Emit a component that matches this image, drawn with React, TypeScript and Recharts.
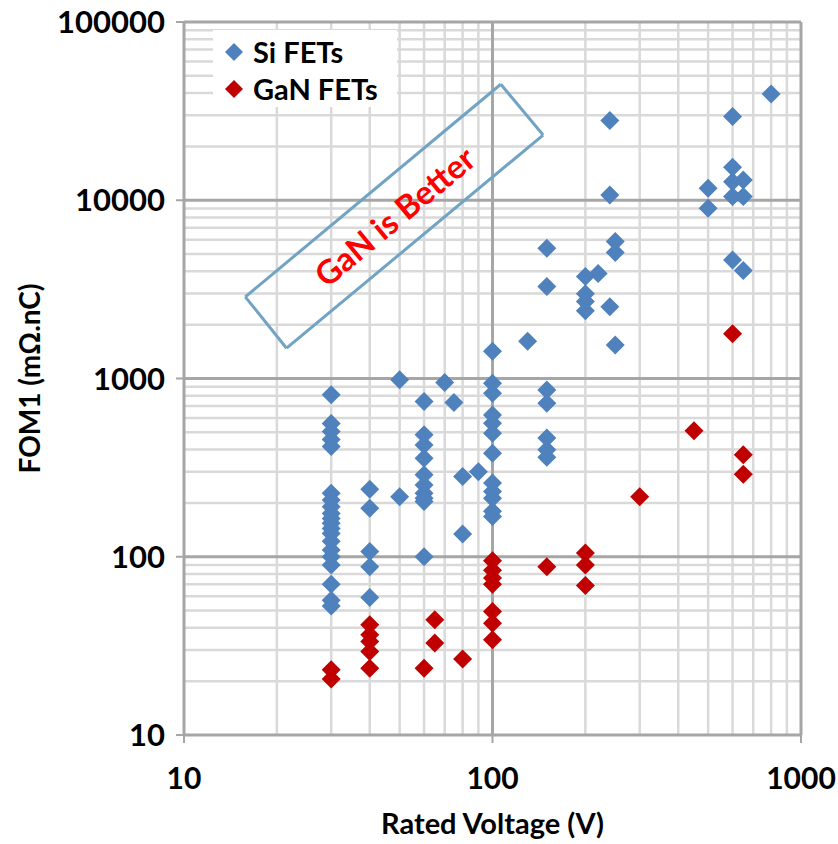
import React from "react";
import {
  ScatterChart,
  Scatter,
  XAxis,
  YAxis,
  ReferenceLine,
  ReferenceDot,
  Legend,
  Label,
} from "recharts";

// Si FETs: rated voltage (V) and FOM1 (mΩ.nC)
const siVoltage = [
  30, 30, 30, 30, 30, 30, 30, 30, 30, 30, 30, 30, 30, 30, 30, 30, 30, 30, 30, 30,
  40, 40, 40, 40, 40,
  50, 50,
  60, 60, 60, 60, 60, 60, 60, 60, 60, 60,
  70, 75, 80, 80, 90,
  100, 100, 100, 100, 100, 100, 100, 100, 100, 100, 100, 100,
  130,
  150, 150, 150, 150, 150, 150, 150,
  200, 200, 200, 200, 220,
  240, 240, 240, 250, 250, 250,
  500, 500,
  600, 600, 600, 600, 600,
  650, 650, 650,
  800,
];
const siFom = [
  810, 560, 505, 455, 415, 227, 208, 191, 175, 164, 154, 144, 135, 122, 109, 100, 90, 70, 57, 53,
  239, 187, 107, 88, 59,
  985, 217,
  742, 483, 424, 357, 288, 253, 227, 213, 204, 100,
  950, 733, 282, 134, 300,
  1420, 940, 826, 625, 561, 493, 381, 259, 232, 213, 180, 168,
  1620,
  5380, 3280, 863, 727, 463, 398, 362,
  3730, 2990, 2700, 2400, 3880,
  27980, 10710, 2530, 5860, 5100, 1543,
  11680, 9020,
  29500, 15300, 12700, 10480, 4625,
  13000, 10480, 4030,
  39500,
];

// GaN FETs
const ganVoltage = [
  30, 30,
  40, 40, 40, 40, 40,
  60, 65, 65, 80,
  100, 100, 100, 100, 100, 100, 100,
  150, 200, 200, 200,
  300, 450, 600, 650, 650,
];
const ganFom = [
  23.2, 20.6,
  41.5, 36.5, 33.5, 29.4, 23.7,
  23.7, 44.3, 32.8, 26.7,
  95, 84, 76, 70, 49.3, 42.4, 34.2,
  88, 105, 90, 69,
  217, 510, 1780, 373, 290,
];

const seriesNames = ["Si FETs", "GaN FETs"];
const xTicks = [10, 100, 1000];
const yTicks = [10, 100, 1000, 10000, 100000];
const annotationText = "GaN is Better";

const siData = siVoltage.map((v, i) => ({ v, fom: siFom[i] }));
const ganData = ganVoltage.map((v, i) => ({ v, fom: ganFom[i] }));

// minor grid values (2..9 within each decade)
const minorX: number[] = [];
for (const d of [10, 100]) for (let k = 2; k <= 9; k++) minorX.push(k * d);
const minorY: number[] = [];
for (const d of [10, 100, 1000, 10000]) for (let k = 2; k <= 9; k++) minorY.push(k * d);

// corners of the tilted "GaN is Better" box, in data coordinates
const boxCorners = [
  { x: 15.8, y: 2870 },
  { x: 106.4, y: 44740 },
  { x: 145.9, y: 23220 },
  { x: 21.5, y: 1479 },
];
const boxCenter = { x: 48, y: 8170 };

const FONT = "Lato, 'Open Sans', sans-serif";
const SI_COLOR = "#4F81BD";
const GAN_COLOR = "#C00000";
const MINOR = "#D9D9D9";
const MAJOR = "#A6A6A6";

const Diamond = (props: any) => {
  const { cx, cy, fill } = props;
  const r = 9.5;
  return (
    <polygon
      points={`${cx},${cy - r} ${cx + r},${cy} ${cx},${cy + r} ${cx - r},${cy}`}
      fill={fill}
    />
  );
};

const renderLegend = () => (
  <div
    style={{
      background: "#fff",
      width: 184,
      height: 77,
      fontFamily: FONT,
      fontWeight: 700,
      fontSize: 29,
      color: "#000",
    }}
  >
    {seriesNames.map((name, i) => (
      <div
        key={name}
        style={{ position: "absolute", left: 0, top: i === 0 ? 4 : 41, height: 36, display: "flex", alignItems: "center" }}
      >
        <svg width={40} height={36} style={{ display: "block" }}>
          <polygon
            points="21,9 30,18 21,27 12,18"
            fill={i === 0 ? SI_COLOR : GAN_COLOR}
          />
        </svg>
        <span style={{ lineHeight: "36px" }}>{name}</span>
      </div>
    ))}
  </div>
);

const AnnotationText = (props: any) => {
  const { cx, cy } = props;
  return (
    <text
      x={cx}
      y={cy}
      transform={`rotate(-39.8 ${cx} ${cy})`}
      textAnchor="middle"
      dominantBaseline="central"
      fill="#FF0000"
      fontFamily={FONT}
      fontWeight={700}
      fontSize={33}
    >
      {annotationText}
    </text>
  );
};

export default function App() {
  const xTickStyle = { fill: "#000", fontSize: 30, fontWeight: 700, fontFamily: FONT };
  const yTickStyle = { fill: "#000", fontSize: 31, fontWeight: 700, fontFamily: FONT };
  return (
    <div style={{ position: "absolute", left: 0, top: 0, width: 838, height: 844, background: "#fff" }}>
      <ScatterChart width={838} height={844} margin={{ top: 22, right: 37, bottom: 0, left: 0 }}>
        {minorX.map((v) => (
          <ReferenceLine key={`mx${v}`} x={v} stroke={MINOR} strokeWidth={2.5} />
        ))}
        {minorY.map((v) => (
          <ReferenceLine key={`my${v}`} y={v} stroke={MINOR} strokeWidth={2.5} />
        ))}
        {xTicks.slice(1).map((v) => (
          <ReferenceLine key={`Mx${v}`} x={v} stroke={MAJOR} strokeWidth={3} />
        ))}
        {yTicks.slice(1).map((v) => (
          <ReferenceLine key={`My${v}`} y={v} stroke={MAJOR} strokeWidth={3} />
        ))}
        <XAxis
          dataKey="v"
          type="number"
          scale="log"
          domain={[10, 1000]}
          ticks={xTicks}
          allowDataOverflow
          height={109}
          tick={xTickStyle}
          tickSize={8}
          tickMargin={25}
          axisLine={{ stroke: MAJOR, strokeWidth: 3 }}
          tickLine={{ stroke: MAJOR, strokeWidth: 2 }}
        >
          <Label
            content={(p: any) => {
              const vb = p.viewBox;
              return (
                <text
                  x={vb.x + vb.width / 2}
                  y={vb.y + 99}
                  textAnchor="middle"
                  fontFamily={FONT}
                  fontWeight={700}
                  fontSize={29}
                  fill="#000"
                >
                  Rated Voltage (V)
                </text>
              );
            }}
          />
        </XAxis>
        <YAxis
          dataKey="fom"
          type="number"
          scale="log"
          domain={[10, 100000]}
          ticks={yTicks}
          allowDataOverflow
          width={184}
          tick={yTickStyle}
          tickSize={8}
          tickMargin={11}
          axisLine={{ stroke: MAJOR, strokeWidth: 3 }}
          tickLine={{ stroke: MAJOR, strokeWidth: 2 }}
        >
          <Label
            content={(p: any) => {
              const vb = p.viewBox;
              const cx = 29;
              const cy = vb.y + vb.height / 2;
              return (
                <text
                  x={cx}
                  y={cy}
                  transform={`rotate(-90 ${cx} ${cy})`}
                  textAnchor="middle"
                  dominantBaseline="central"
                  fontFamily={FONT}
                  fontWeight={700}
                  fontSize={28}
                  fill="#000"
                >
                  FOM1 (mΩ.nC)
                </text>
              );
            }}
          />
        </YAxis>
        {boxCorners.map((c, i) => (
          <ReferenceLine
            key={`box${i}`}
            segment={[c, boxCorners[(i + 1) % boxCorners.length]]}
            stroke="#71A3C3"
            strokeWidth={3}
            ifOverflow="visible"
          />
        ))}
        <ReferenceDot x={boxCenter.x} y={boxCenter.y} ifOverflow="visible" shape={AnnotationText} />
        <Scatter name={seriesNames[0]} data={siData} fill={SI_COLOR} shape={Diamond} isAnimationActive={false} />
        <Scatter name={seriesNames[1]} data={ganData} fill={GAN_COLOR} shape={Diamond} isAnimationActive={false} />
        <Legend
          layout="vertical"
          align="center"
          verticalAlign="middle"
          content={renderLegend}
          wrapperStyle={{ left: 213, top: 30, width: 184, height: 77 }}
        />
      </ScatterChart>
    </div>
  );
}
